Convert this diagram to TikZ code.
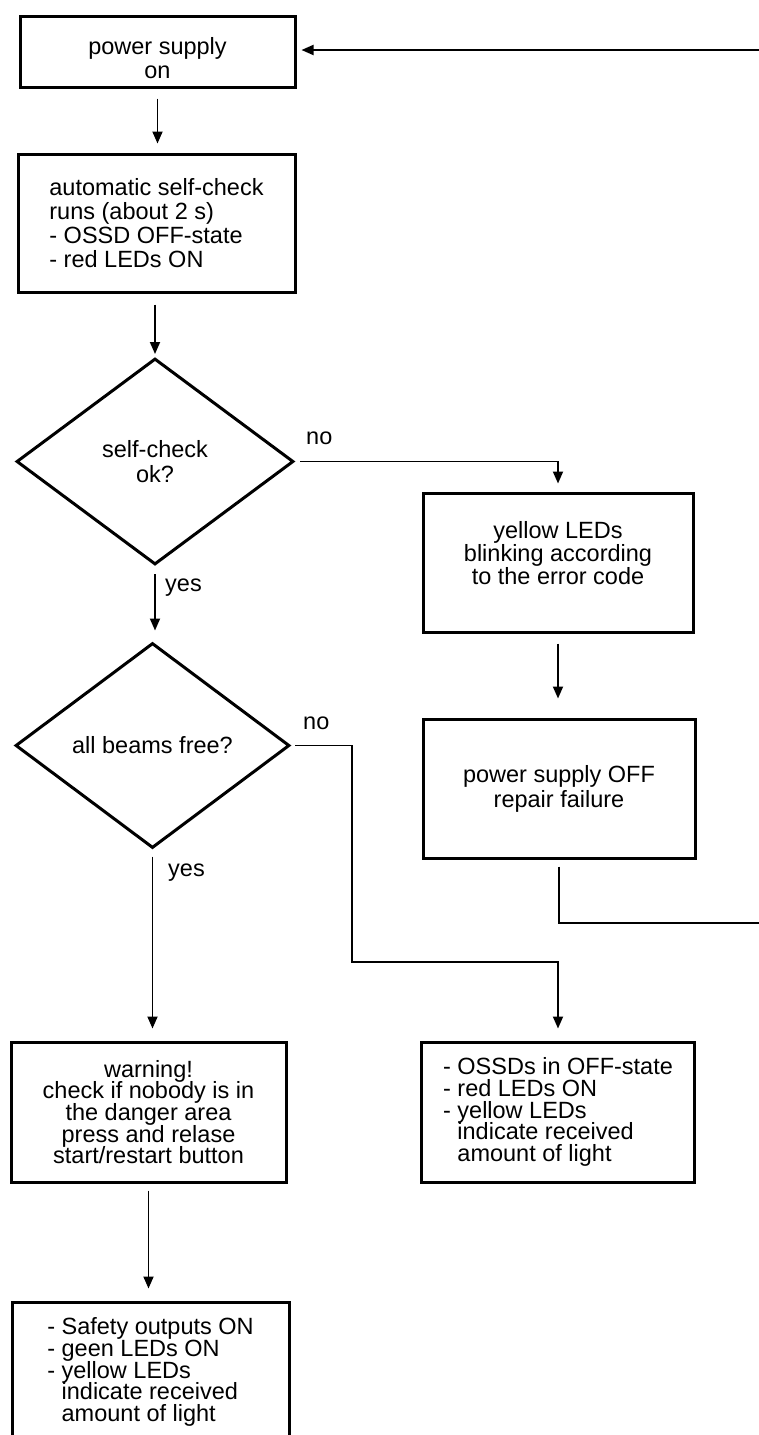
\documentclass[tikz,border=0pt]{standalone}
\usepackage{fontspec}
\setmainfont{Liberation Sans}
\usetikzlibrary{shapes.geometric,arrows.meta}
\newcommand{\tightlines}{\lineskiplimit=-60pt\relax}
\begin{document}
\begin{tikzpicture}[x=1pt,y=-1pt,
  box/.style={draw, line width=3pt, inner sep=0pt, font=\fontsize{23.5}{24}\selectfont\tightlines},
  dec/.style={draw, shape=diamond, line width=3pt, inner sep=0pt, minimum width=277pt, minimum height=206pt, font=\fontsize{23.5}{25}\selectfont\tightlines, align=center},
  conn/.style={line width=1.8pt},
  arr/.style={conn, -{Triangle[length=12pt,width=10pt]}},
  lbl/.style={font=\fontsize{23.5}{24}\selectfont, inner sep=0pt, anchor=west}]
\clip (0,0) rectangle (759,1435);
\fill[white] (0,0) rectangle (759,1435);

\node[box, minimum width=275pt, minimum height=71pt, align=center] (b1) at (157.5,51.5) {\rule{0pt}{31pt}power supply\\on};
\node[box, minimum width=277pt, minimum height=138pt, align=left] (b2) at (156.5,223) {automatic self-check\\runs (about 2 s)\\- OSSD OFF-state\\- red LEDs ON};
\node[dec] (d1) at (155,461.5) {self-check\\ok?};
\node[box, minimum width=270pt, minimum height=139pt, align=center, font=\fontsize{23.5}{23}\selectfont\tightlines] (b3) at (558,562.5) {yellow LEDs\\blinking according\\to the error code\rule[-20pt]{0pt}{0pt}};
\node[box, minimum width=272pt, minimum height=139pt, align=center, font=\fontsize{23.5}{25}\selectfont\tightlines] (b4) at (559,788.5) {power supply OFF\\repair failure};
\node[dec, minimum width=274pt, minimum height=205pt] (d2) at (152.5,745.5) {all beams free?};
\node[box, minimum width=275pt, minimum height=140pt, align=center, font=\fontsize{23.5}{21.7}\selectfont\tightlines] (b5) at (148.5,1112) {warning!\\check if nobody is in\\the danger area\\press and relase\\start/restart button};
\node[box, minimum width=273pt, minimum height=140pt, align=left, font=\fontsize{23.5}{21.7}\selectfont\tightlines] (b6) at (558,1112) {- OSSDs in OFF-state\\- red LEDs ON\\- yellow LEDs\\\hphantom{- }indicate received\\\hphantom{- }amount of light};
\node[box, minimum width=277pt, minimum height=140pt, align=left, font=\fontsize{23.5}{21.7}\selectfont\tightlines] (b7) at (150.5,1372) {- Safety outputs ON\\- geen LEDs ON\\- yellow LEDs\\\hphantom{- }indicate received\\\hphantom{- }amount of light};

\node[lbl] (no1) at (306,438) {no};
\node[lbl] (yes1) at (165,588) {yes};
\node[lbl] (no2) at (303,723) {no};
\node[lbl] (yes2) at (168,873) {yes};

\coordinate (k1) at (352,745.5);
\coordinate (k2) at (352,962);
\coordinate (k3) at (800,923);
\coordinate (k4) at (800,50);

\draw[arr, shorten <=10pt, shorten >=9pt] (b1.south) -- (b1.south |- b2.north);
\draw[arr, shorten <=11pt, shorten >=3pt] (b2.south -| d1.north) -- (d1.north);
\draw[arr, shorten <=5pt, shorten >=8pt] (d1.east) -- (d1.east -| b3.north) -- (b3.north);
\draw[arr, shorten <=8pt, shorten >=11pt] (d1.south) -- (d1.south |- d2.north);
\draw[arr, shorten <=10pt, shorten >=19pt] (b3.south) -- (b3.south |- b4.north);
\draw[arr, shorten <=7pt, shorten >=5pt] (b4.south) -- (b4.south |- k3) -- (k3) -- (k4) -- (k4 -| b1.east);
\draw[arr, shorten <=4pt, shorten >=12pt] (d2.east) -- (k1) -- (k2) -- (k2 -| b6.north) -- (b6.north);
\draw[arr, shorten <=7pt, shorten >=12pt] (d2.south) -- (d2.south |- b5.north);
\draw[arr, shorten <=7pt, shorten >=12pt] (b5.south) -- (b5.south |- b7.north);
\end{tikzpicture}
\end{document}
